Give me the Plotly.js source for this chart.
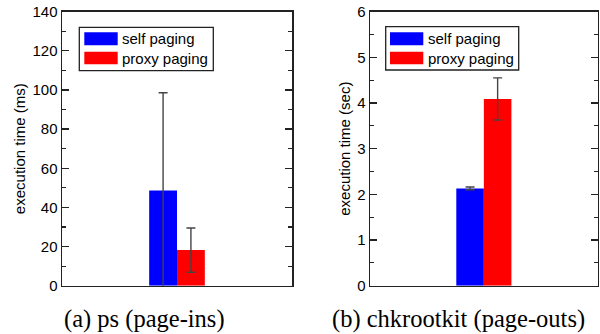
<!DOCTYPE html>
<html><head><meta charset="utf-8">
<script src="https://cdn.plot.ly/plotly-3.0.1.min.js"></script>
<style>html,body{margin:0;padding:0;background:#fff}#chart{width:600px;height:334px}</style>
</head><body><div id="chart"></div>
<script>
const categories = ['run'];
const seriesNames = ['self paging', 'proxy paging'];
const psSelf = [48.6];
const psSelfErr = [50.0];
const psProxy = [18.2];
const psProxyErr = [11.3];
const chkSelf = [2.13];
const chkSelfErr = [0.03];
const chkProxy = [4.09];
const chkProxyErr = [0.46];
const captions = ['(a) ps (page-ins)', '(b) chkrootkit (page-outs)'];
const yTitles = ['execution time (ms)', 'execution time (sec)'];

const W = 600, H = 334;
const px = x => x / W, py = y => 1 - y / H;
const colors = ['#0000ff', '#ff0000'];
const errStyle = v => ({type: 'data', array: v, visible: true, color: '#444', thickness: 1.4, width: 4.5});

const traces = [
  {type: 'bar', x: categories, y: psSelf, error_y: errStyle(psSelfErr), marker: {color: colors[0]}, xaxis: 'x', yaxis: 'y', name: seriesNames[0], showlegend: false},
  {type: 'bar', x: categories, y: psProxy, error_y: errStyle(psProxyErr), marker: {color: colors[1]}, xaxis: 'x', yaxis: 'y', name: seriesNames[1], showlegend: false},
  {type: 'bar', x: categories, y: chkSelf, error_y: errStyle(chkSelfErr), marker: {color: colors[0]}, xaxis: 'x2', yaxis: 'y2', name: seriesNames[0], showlegend: false},
  {type: 'bar', x: categories, y: chkProxy, error_y: errStyle(chkProxyErr), marker: {color: colors[1]}, xaxis: 'x2', yaxis: 'y2', name: seriesNames[1], showlegend: false}
];

const font = {family: '"Liberation Sans", Arial, sans-serif', size: 15, color: '#000'};
const frame = {showline: true, mirror: 'ticks', linecolor: '#222', linewidth: 1.5};
const xax = d => Object.assign({domain: d, showticklabels: false, ticks: '', showgrid: false, zeroline: false, fixedrange: true}, frame);
const yax = (range, dtick, minor, title, anchor) => Object.assign({
  range: range, dtick: dtick, ticks: 'inside', ticklen: 7, tickwidth: 1.3, tickcolor: '#222',
  minor: {ticks: 'inside', ticklen: 4, dtick: minor, tickcolor: '#222', tickwidth: 1.2, showgrid: false},
  showgrid: false, zeroline: false, domain: [py(285.7), py(11.7)], anchor: anchor,
  title: {text: title, font: {size: 15}, standoff: 3}, tickfont: {size: 15}
}, frame);

const shapes = [], annotations = [];
function legend(bx0, by0, bx1, by1, sx0, sx1, tx) {
  shapes.push({type: 'rect', xref: 'paper', yref: 'paper', x0: px(bx0), x1: px(bx1), y0: py(by0), y1: py(by1), line: {color: '#222', width: 1.3}, fillcolor: '#fff'});
  const rows = [[32.3, 45.3], [51.7, 64.3]];
  rows.forEach((r, i) => {
    shapes.push({type: 'rect', xref: 'paper', yref: 'paper', x0: px(sx0), x1: px(sx1), y0: py(r[0]), y1: py(r[1]), line: {width: 0}, fillcolor: colors[i]});
    annotations.push({xref: 'paper', yref: 'paper', x: px(tx), y: py((r[0] + r[1]) / 2), text: seriesNames[i], showarrow: false, xanchor: 'left', yanchor: 'middle', font: {size: 15}});
  });
}
legend(79.3, 27.3, 213.3, 70.7, 84.3, 117.7, 120);
legend(385.7, 26.7, 518.7, 70, 390, 423.3, 426);

const capFont = {family: '"Liberation Serif", "Times New Roman", serif', size: 24.5, color: '#000'};
annotations.push({xref: 'paper', yref: 'paper', x: px(144), y: py(319), text: captions[0], showarrow: false, xanchor: 'center', yanchor: 'middle', font: capFont});
annotations.push({xref: 'paper', yref: 'paper', x: px(458.7), y: py(319), text: captions[1], showarrow: false, xanchor: 'center', yanchor: 'middle', font: capFont});

const layout = {
  width: W, height: H, margin: {l: 0, r: 0, t: 0, b: 0}, paper_bgcolor: '#fff', plot_bgcolor: '#fff',
  font: font, barmode: 'group', bargap: 0.758, bargroupgap: 0, showlegend: false,
  xaxis: xax([px(62), px(292)]),
  yaxis: yax([0, 140], 20, 10, yTitles[0], 'x'),
  xaxis2: xax([px(370), px(597.7)]),
  yaxis2: yax([0, 6], 1, 0.5, yTitles[1], 'x2'),
  shapes: shapes, annotations: annotations
};
layout.xaxis.anchor = 'y';
layout.xaxis2.anchor = 'y2';
Plotly.newPlot('chart', traces, layout, {staticPlot: true, displayModeBar: false});
</script></body></html>
